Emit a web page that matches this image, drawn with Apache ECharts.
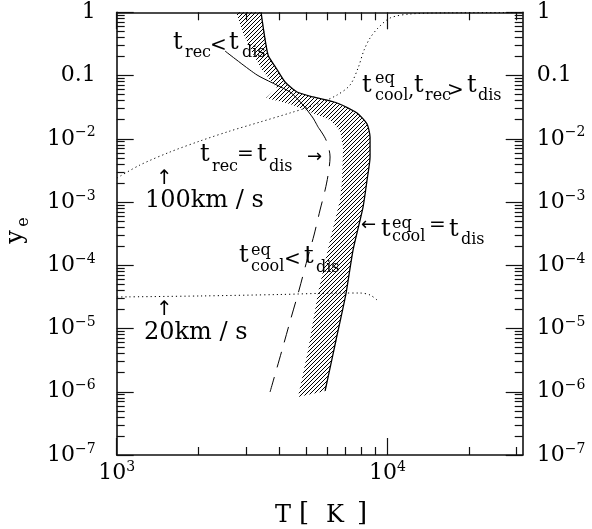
<!DOCTYPE html>
<html><head><meta charset="utf-8">
<script src="https://cdn.jsdelivr.net/npm/echarts@6/dist/echarts.min.js"></script>
<style>html,body{margin:0;padding:0;background:#fff}#c{width:592px;height:529px}</style>
</head><body><div id="c"></div>
<script>
// ---- tick definitions ----
const xMajorTicks = [1000, 10000];
const xTickBase = ['10', '10'];
const xTickExp = ['3', '4'];
const xMinorTicks = [2000, 3000, 4000, 5000, 6000, 7000, 8000, 9000, 20000, 30000];
const yMajorTicks = [1e-7, 1e-6, 1e-5, 1e-4, 1e-3, 1e-2, 0.1, 1];
const yTickBase = ['10', '10', '10', '10', '10', '10', '0.1', '1'];
const yTickExp = ['\u22127', '\u22126', '\u22125', '\u22124', '\u22123', '\u22122', '', ''];
const minorMantissas = [2, 3, 4, 5, 6, 7, 8, 9];
const yDecades = [1e-7, 1e-6, 1e-5, 1e-4, 1e-3, 1e-2, 0.1];

// ---- curves (T [K], y_e) ----
const v100T = [1003, 1219, 1574, 2032, 2623, 3385, 4370, 5405, 6518, 7281, 7794, 8203, 8630, 9239, 10233, 12132, 17050, 31000];
const v100Y = [0.0024, 0.00385, 0.00618, 0.00923, 0.01327, 0.0184, 0.0256, 0.0342, 0.0492, 0.0709, 0.1316, 0.2535, 0.392, 0.565, 0.813, 0.94, 0.982, 0.99];
const v20T = [1003, 2032, 4013, 6687, 7928, 8630, 9161];
const v20Y = [3.15e-5, 3.27e-5, 3.45e-5, 3.64e-5, 3.64e-5, 3.39e-5, 2.82e-5];
const recSolidT = [2513, 3300, 4370, 4881, 5314, 5545];
const recSolidY = [0.2444, 0.102, 0.0549, 0.0342, 0.0213, 0.01535];
const recDashT = [5545, 5935, 6141, 6038, 5888, 5640, 5359, 5050, 4718, 4407, 4082, 3686];
const recDashY = [0.01535, 0.00957, 0.00515, 0.00267, 0.00155, 7.48e-4, 3.01e-4, 1.21e-4, 4.06e-5, 1.47e-5, 4.57e-6, 9.91e-7];
const coolOuterT = [3415, 3624, 3879, 4187, 4637, 5314, 6518, 7727, 8413, 8630, 8630, 8413, 8131, 7468, 7038, 6462, 5888];
const coolOuterY = [1.0, 0.211, 0.1316, 0.0791, 0.0549, 0.0458, 0.0368, 0.0256, 0.01713, 0.01067, 0.00515, 0.00223, 8.34e-4, 1.74e-4, 3.64e-5, 6.58e-6, 1.03e-6];
const coolInnerT = [2760, 2929, 3162, 3443, 3912, 3562, 4370, 5181, 6141, 6687, 6861, 6802, 6687, 6141, 5545, 5093, 4677];
const coolInnerY = [1.0, 0.471, 0.2356, 0.1224, 0.0635, 0.0441, 0.0355, 0.0265, 0.0198, 0.01327, 0.00741, 0.00223, 0.00108, 2.51e-4, 3.64e-5, 4.57e-6, 8.26e-7];

const yMinorTicks = [];
yDecades.forEach(d => minorMantissas.forEach(m => yMinorTicks.push(m * d)));

function pairs(a, b) { return a.map((v, i) => [v, b[i]]); }
function nearestIdx(arr, v) {
  let best = 0, bd = Infinity;
  arr.forEach((t, i) => { const d = Math.abs(Math.log10(t) - Math.log10(v)); if (d < bd) { bd = d; best = i; } });
  return best;
}

// hatch pattern
const hatch = document.createElement('canvas');
hatch.width = 4; hatch.height = 4;
(function () {
  const c = hatch.getContext('2d');
  c.strokeStyle = '#000'; c.lineWidth = 1;
  c.beginPath();
  c.moveTo(0, 4); c.lineTo(4, 0);
  c.moveTo(-1, 1); c.lineTo(1, -1);
  c.moveTo(3, 5); c.lineTo(5, 3);
  c.stroke();
})();

const FF = '"DejaVu Serif"';
const FA = '"DejaVu Sans"';
const rich = {
  b: { fontFamily: FF, fontSize: 22, lineHeight: 26, color: '#000' },
  s: { fontFamily: FF, fontSize: 14, lineHeight: 18, verticalAlign: 'top', color: '#000' }
};
function fmt(base, exp) { return exp ? '{b|' + base + '}{s|' + exp + '}' : '{b|' + base + '}'; }

const XMIN = 1000, XMAX = 31622.7766, YMIN = 1e-7, YMAX = 1;
const AX = '#111';
function xAx(pos, major, labels) {
  return {
    type: 'log', logBase: 10, min: XMIN, max: XMAX, position: pos, gridIndex: 0,
    axisLine: { show: major, onZero: false, lineStyle: { color: AX, width: 1.6 } },
    axisTick: { show: true, inside: true, length: major ? 17 : 8, customValues: major ? xMajorTicks : xMinorTicks, lineStyle: { color: AX, width: 1.2 } },
    axisLabel: labels ? { show: true, customValues: xMajorTicks, margin: 5, rich: rich,
      formatter: v => { const i = nearestIdx(xMajorTicks, v); return fmt(xTickBase[i], xTickExp[i]); } } : { show: false },
    splitLine: { show: false }, minorTick: { show: false }
  };
}
function yAx(pos, major, labels) {
  return {
    type: 'log', logBase: 10, min: YMIN, max: YMAX, position: pos, gridIndex: 0,
    axisLine: { show: major, onZero: false, lineStyle: { color: AX, width: 1.6 } },
    axisTick: { show: true, inside: true, length: major ? 17 : 8, customValues: major ? yMajorTicks : yMinorTicks, lineStyle: { color: AX, width: 1.2 } },
    axisLabel: labels ? { show: true, customValues: yMajorTicks, margin: pos === 'left' ? 21 : 14, align: pos === 'left' ? 'right' : 'left', rich: rich,
      formatter: v => { const i = nearestIdx(yMajorTicks, v); return fmt(yTickBase[i], yTickExp[i]); } } : { show: false },
    splitLine: { show: false }, minorTick: { show: false }
  };
}

const B = 24, S = 16, R = 20;
function tb(s, x, base, size) { // baseline positioned text
  return { type: 'text', x: x, y: base - 0.3 * size, z: 100,
    style: { text: s, font: size + 'px ' + FF, fill: '#000', textAlign: 'left', textVerticalAlign: 'middle' } };
}
function tc(s, x, cy, size, fam) { // centre positioned text
  return { type: 'text', x: x, y: cy, z: 100,
    style: { text: s, font: size + 'px ' + (fam || FF), fill: '#000', textAlign: 'left', textVerticalAlign: 'middle' } };
}

const graphics = [
  // t_rec < t_dis
  tb('t', 173, 50, B), tb('rec', 185, 58, S), tc('<', 210, 46, R), tb('t', 229, 50, B), tb('dis', 242, 58, S),
  // t_rec = t_dis ->
  tb('t', 200, 162, B), tb('rec', 212, 172, S), tc('=', 237, 155, R), tb('t', 257, 162, B), tb('dis', 269, 172, S), tc('\u2192', 307, 157, 18, FA),
  // t_cool^eq, t_rec > t_dis
  tb('t', 362, 93, B), tb('eq', 375, 84, S), tb('cool', 375, 101, S), tb(',', 408, 97, R),
  tb('t', 414, 93, B), tb('rec', 425, 101, S), tc('>', 447, 91, R), tb('t', 467, 93, B), tb('dis', 478, 101, S),
  // <- t_cool^eq = t_dis
  tc('\u2190', 361, 225, 18, FA), tb('t', 381, 237, B), tb('eq', 392, 229, S), tb('cool', 392, 242, S), tc('=', 429, 226, R), tb('t', 449, 237, B), tb('dis', 461, 245, S),
  // t_cool^eq < t_dis
  tb('t', 239, 263, B), tb('eq', 251, 256, S), tb('cool', 251, 272, S), tc('<', 284, 260, R), tb('t', 304, 264, B), tb('dis', 316, 273, S),
  // velocities
  tc('\u2191', 156, 179, 20, FA), tb('100km / s', 145, 208, 24),
  tc('\u2191', 156, 310, 20, FA), tb('20km / s', 144, 340, 24),
  // x title
  tb('T', 275, 523, B), tb('[', 299, 522, 26), tb('K', 326, 523, B), tb(']', 357, 522, 26),
  // y title
  { type: 'text', x: 16, y: 237, rotation: Math.PI / 2, z: 100,
    style: { text: 'y', font: '24px ' + FF, fill: '#000', textAlign: 'center', textVerticalAlign: 'middle' } },
  { type: 'text', x: 24, y: 222, rotation: Math.PI / 2, z: 100,
    style: { text: 'e', font: '16px ' + FF, fill: '#000', textAlign: 'center', textVerticalAlign: 'middle' } }
];

const chart = echarts.init(document.getElementById('c'), null, { renderer: 'canvas' });
chart.setOption({
  animation: false,
  backgroundColor: '#fff',
  grid: { left: 116.7, right: 69.3, top: 12.3, bottom: 74, containLabel: false, outerBoundsMode: 'none' },
  xAxis: [xAx('bottom', true, true), xAx('bottom', false, false), xAx('top', true, false), xAx('top', false, false)],
  yAxis: [yAx('left', true, true), yAx('left', false, false), yAx('right', true, true), yAx('right', false, false)],
  graphic: graphics,
  series: [
    { type: 'custom', xAxisIndex: 0, yAxisIndex: 0, data: [[3000, 0.1]], z: 2, silent: true,
      renderItem: function (params, api) {
        const pts = [];
        for (let i = 0; i < coolOuterT.length; i++) pts.push(api.coord([coolOuterT[i], coolOuterY[i]]));
        for (let i = coolInnerT.length - 1; i >= 0; i--) pts.push(api.coord([coolInnerT[i], coolInnerY[i]]));
        return { type: 'polygon', shape: { points: pts }, style: { fill: { image: hatch, repeat: 'repeat' }, stroke: null } };
      } },
    { type: 'line', data: pairs(coolOuterT, coolOuterY), symbol: 'none', smooth: 0.2, z: 3,
      lineStyle: { color: '#000', width: 1.3 } },
    { type: 'line', data: pairs(recSolidT, recSolidY), symbol: 'none', smooth: 0.2, z: 3,
      lineStyle: { color: '#000', width: 1 } },
    { type: 'line', data: pairs(recDashT, recDashY), symbol: 'none', smooth: 0.3, z: 3,
      lineStyle: { color: '#000', width: 1, type: [16, 10] } },
    { type: 'line', data: pairs(v100T, v100Y), symbol: 'none', smooth: 0.3, z: 3,
      lineStyle: { color: '#000', width: 1, type: [1.2, 3] } },
    { type: 'line', data: pairs(v20T, v20Y), symbol: 'none', smooth: 0.3, z: 3,
      lineStyle: { color: '#000', width: 1, type: [1.2, 3] } }
  ]
});
</script></body></html>
